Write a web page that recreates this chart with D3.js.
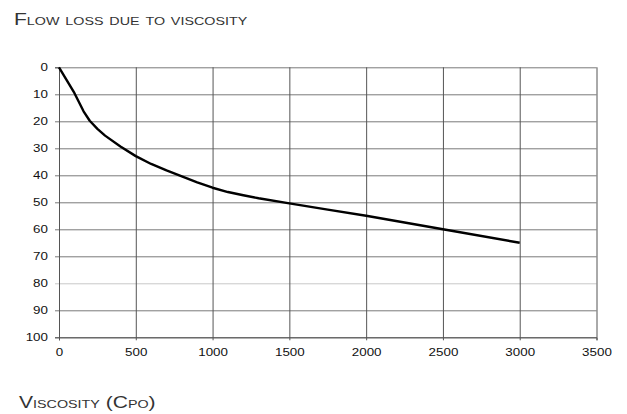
<!DOCTYPE html>
<html>
<head>
<meta charset="utf-8">
<script src="https://cdn.jsdelivr.net/npm/d3@7"></script>
<style>
  html, body { margin: 0; padding: 0; background: #fff; }
  svg { display: block; }
  text { font-family: "Liberation Sans", Arial, sans-serif; }
</style>
</head>
<body>
<svg id="chart" width="627" height="414"></svg>
<script>
// ---- data ----
const viscosity = [0, 100, 160, 200, 250, 300, 400, 500, 600, 700, 800, 900, 1000, 1100, 1200, 1300, 1500, 1750, 2000, 2500, 3000];
const flowLoss  = [0, 9.5, 16.3, 19.8, 22.8, 25.3, 29.3, 32.9, 35.8, 38.2, 40.4, 42.6, 44.6, 46.2, 47.4, 48.5, 50.4, 52.7, 55, 60, 65];
const xTicks = [0, 500, 1000, 1500, 2000, 2500, 3000, 3500];
const yTicks = [0, 10, 20, 30, 40, 50, 60, 70, 80, 90, 100];
const chartTitle = "Flow loss due to viscosity";
const xTitle = "Viscosity (Cpo)";

const svg = d3.select("#chart");
const pLeft = 59, pRight = 596.5, pTop = 67.3, pBottom = 337.3;
const stretch = 1.24; // glyphs in the reference are horizontally widened
const x = d3.scaleLinear().domain([0, 3500]).range([pLeft, pRight]);
const y = d3.scaleLinear().domain([0, 100]).range([pTop, pBottom]);

// horizontal gridlines
const gy = svg.append("g").attr("transform", `translate(${pLeft},0)`)
  .call(d3.axisLeft(y).tickValues(yTicks).tickSize(-(pRight - pLeft + 4)).tickFormat(""));
gy.select(".domain").remove();
gy.selectAll(".tick line")
  .attr("transform", "translate(-4,0)")
  .attr("stroke", d => d === 80 ? "#c8c8c8" : "#7a7a7a")
  .attr("stroke-width", 1);

// vertical gridlines
const gx = svg.append("g").attr("transform", `translate(0,${pBottom})`)
  .call(d3.axisBottom(x).tickValues(xTicks).tickSize(-(pBottom - pTop + 3)).tickFormat(""));
gx.select(".domain").remove();
gx.selectAll(".tick line")
  .attr("transform", "translate(0,3)")
  .attr("stroke", "#555")
  .attr("stroke-width", 1);

// y labels
const ay = svg.append("g").attr("transform", `translate(${pLeft},0)`)
  .call(d3.axisLeft(y).tickValues(yTicks).tickSize(4).tickPadding(7).tickFormat(d3.format("d")));
ay.select(".domain").attr("stroke", "#555");
ay.selectAll(".tick line").remove();
ay.selectAll(".tick text")
  .attr("font-size", 10.8).attr("fill", "#111")
  .attr("x", -11 / stretch)
  .attr("transform", `scale(${stretch},1)`);

// x labels
const ax = svg.append("g").attr("transform", `translate(0,${pBottom})`)
  .call(d3.axisBottom(x).tickValues(xTicks).tickSize(3).tickPadding(8).tickFormat(d3.format("d")));
ax.select(".domain").attr("stroke", "#555");
ax.selectAll(".tick line").remove();
ax.selectAll(".tick text")
  .attr("font-size", 10.8).attr("fill", "#111")
  .attr("transform", `scale(${stretch},1)`);

// curve
const line = d3.line()
  .x((d, i) => x(viscosity[i]))
  .y((d, i) => y(flowLoss[i]))
  .curve(d3.curveLinear);
svg.append("path")
  .datum(flowLoss)
  .attr("d", line)
  .attr("fill", "none")
  .attr("stroke", "#000")
  .attr("stroke-width", 2.4)
  .attr("stroke-linejoin", "round");

// titles
svg.append("text")
  .attr("transform", `translate(14,25) scale(${stretch},1)`)
  .attr("font-size", 17)
  .attr("fill", "#333")
  .style("font-variant", "small-caps")
  .text(chartTitle);

svg.append("text")
  .attr("transform", `translate(19,408) scale(${stretch},1)`)
  .attr("font-size", 17)
  .attr("fill", "#333")
  .style("font-variant", "small-caps")
  .text(xTitle);
</script>
</body>
</html>
